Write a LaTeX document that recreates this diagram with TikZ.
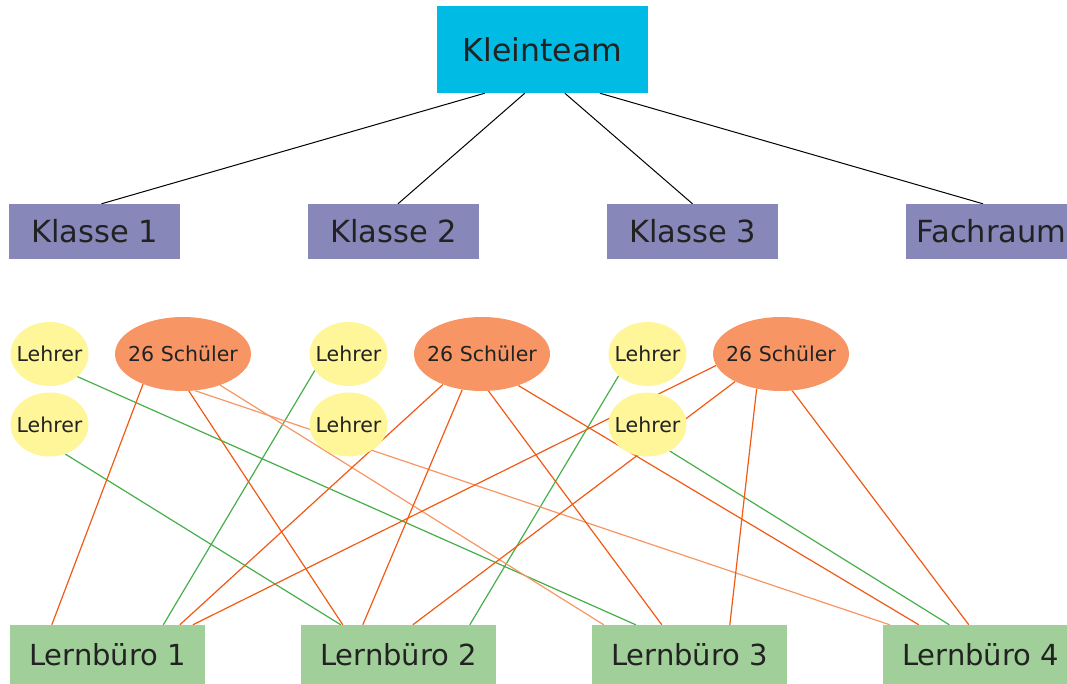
\documentclass[tikz,border=0pt]{standalone}
\usepackage{fontspec}
\setmainfont{DejaVu Sans}
\usepackage{tikz}
\usetikzlibrary{
    shapes.geometric,
    backgrounds
}
\definecolor{cian}{RGB}{0,187,227}
\definecolor{lila}{RGB}{136,135,186}
\definecolor{amarillo}{RGB}{255,245,153}
\definecolor{salmon}{RGB}{247,150,100}
\definecolor{verdeclaro}{RGB}{161,207,153}
\definecolor{naranja}{RGB}{240,90,20}
\definecolor{verde}{RGB}{70,175,75}
\definecolor{texto}{RGB}{34,34,34}
\tikzset{
    caja/.style={
        rectangle,
        inner sep=0pt,
        text=texto
    },
    equipo/.style={
        caja,
        fill=cian,
        minimum width=211pt,
        minimum height=87pt,
        font=\fontsize{31.5}{36}\selectfont
    },
    clase/.style={
        caja,
        fill=lila,
        minimum width=171pt,
        minimum height=55pt,
        font=\fontsize{30.5}{35}\selectfont
    },
    oficina/.style={
        caja,
        fill=verdeclaro,
        minimum width=195pt,
        minimum height=60pt,
        font=\fontsize{29}{34}\selectfont
    },
    profe/.style={
        ellipse,
        inner xsep=-12pt,
        inner ysep=0pt,
        fill=amarillo,
        minimum width=78pt,
        minimum height=64pt,
        text=texto,
        font=\fontsize{20.5}{24}\selectfont
    },
    alumnos/.style={
        ellipse,
        inner xsep=-12pt,
        inner ysep=0pt,
        fill=salmon,
        minimum width=136pt,
        minimum height=74pt,
        text=texto,
        font=\fontsize{20.5}{24}\selectfont
    },
    linea negra/.style={draw=black, line width=1pt},
    linea naranja/.style={draw=naranja, line width=1.2pt},
    linea clara/.style={draw=salmon, line width=1.2pt},
    linea verde/.style={draw=verde, line width=1.2pt}
}

\begin{document}
\begin{tikzpicture}[
    x=1pt,
    y=-1pt
]
    \useasboundingbox (0,0) rectangle (1067,684);

    % Kleinteam y clases
    \node[equipo]  (kt) at (542.5,49.5)  {Kleinteam};

    \node[clase]   (k1) at (94.5,231.5)  {Klasse 1};
    \node[clase]   (k2) at (393.5,231.5) {Klasse 2};
    \node[clase]   (k3) at (692.5,231.5) {Klasse 3};
    \node[clase]   (fr) at (991.5,231.5) {Fachraum};

    % Lehrer y Schueler
    \node[profe]   (l1a) at (49.5,354)    {Lehrer};
    \node[profe]   (l1b) at (49.5,424.5)  {Lehrer};
    \node[alumnos] (s1)  at (183,354)     {26 Schüler};

    \node[profe]   (l2a) at (348.5,354)   {Lehrer};
    \node[profe]   (l2b) at (348.5,424.5) {Lehrer};
    \node[alumnos] (s2)  at (482,354)     {26 Schüler};

    \node[profe]   (l3a) at (647.5,354)   {Lehrer};
    \node[profe]   (l3b) at (647.5,424.5) {Lehrer};
    \node[alumnos] (s3)  at (781,354)     {26 Schüler};

    % Lernbueros
    \node[oficina] (lb1) at (107.5,655) {Lernbüro 1};
    \node[oficina] (lb2) at (398.5,655) {Lernbüro 2};
    \node[oficina] (lb3) at (689.5,655) {Lernbüro 3};
    \node[oficina] (lb4) at (980.5,655) {Lernbüro 4};

    % Conexiones
    \begin{scope}[on background layer]
    \path[linea negra]
        ([xshift=48pt]kt.south west)
            edge ([xshift=7pt]k1.north)
        ([xshift=88pt]kt.south west)
            edge ([xshift=4.5pt]k2.north)
        ([xshift=128pt]kt.south west)
            edge (k3.north)
        ([xshift=163pt]kt.south west)
            edge ([xshift=-8.5pt]fr.north);

    % Lehrer
    \path[linea verde]
        (l1a.321) edge ([xshift=44pt]lb3.north west)
        (l1b.298) edge ([xshift=40pt]lb2.north west)
        (l2a.206) edge ([xshift=153.5pt]lb1.north west)
        (l3a.217) edge ([xshift=169pt]lb2.north west)
        (l3b.310) edge ([xshift=66.5pt]lb4.north west);

    % Schueler Klasse 1
    \path[linea naranja]
        (s1.217) edge ([xshift=42pt]lb1.north west)
        (s1.279) edge ([xshift=42pt]lb2.north west);
    \path[linea clara]
        (s1.320) edge ([xshift=12pt]lb3.north west)
        (s1.288) edge ([xshift=7pt]lb4.north west);

    % Schueler Klasse 2
    \path[linea naranja]
        (s2.218) edge ([xshift=170pt]lb1.north west)
        (s2.241) edge ([xshift=62pt]lb2.north west)
        (s2.280) edge ([xshift=70pt]lb3.north west)
        (s2.319) edge ([xshift=36pt]lb4.north west);

    % Schueler Klasse 3
    \path[linea naranja]
        (s3.190) edge ([xshift=183pt]lb1.north west)
        (s3.211) edge ([xshift=112pt]lb2.north west)
        (s3.235) edge ([xshift=138pt]lb3.north west)
        (s3.287) edge ([xshift=86pt]lb4.north west);
    \end{scope}

\end{tikzpicture}
\end{document}
